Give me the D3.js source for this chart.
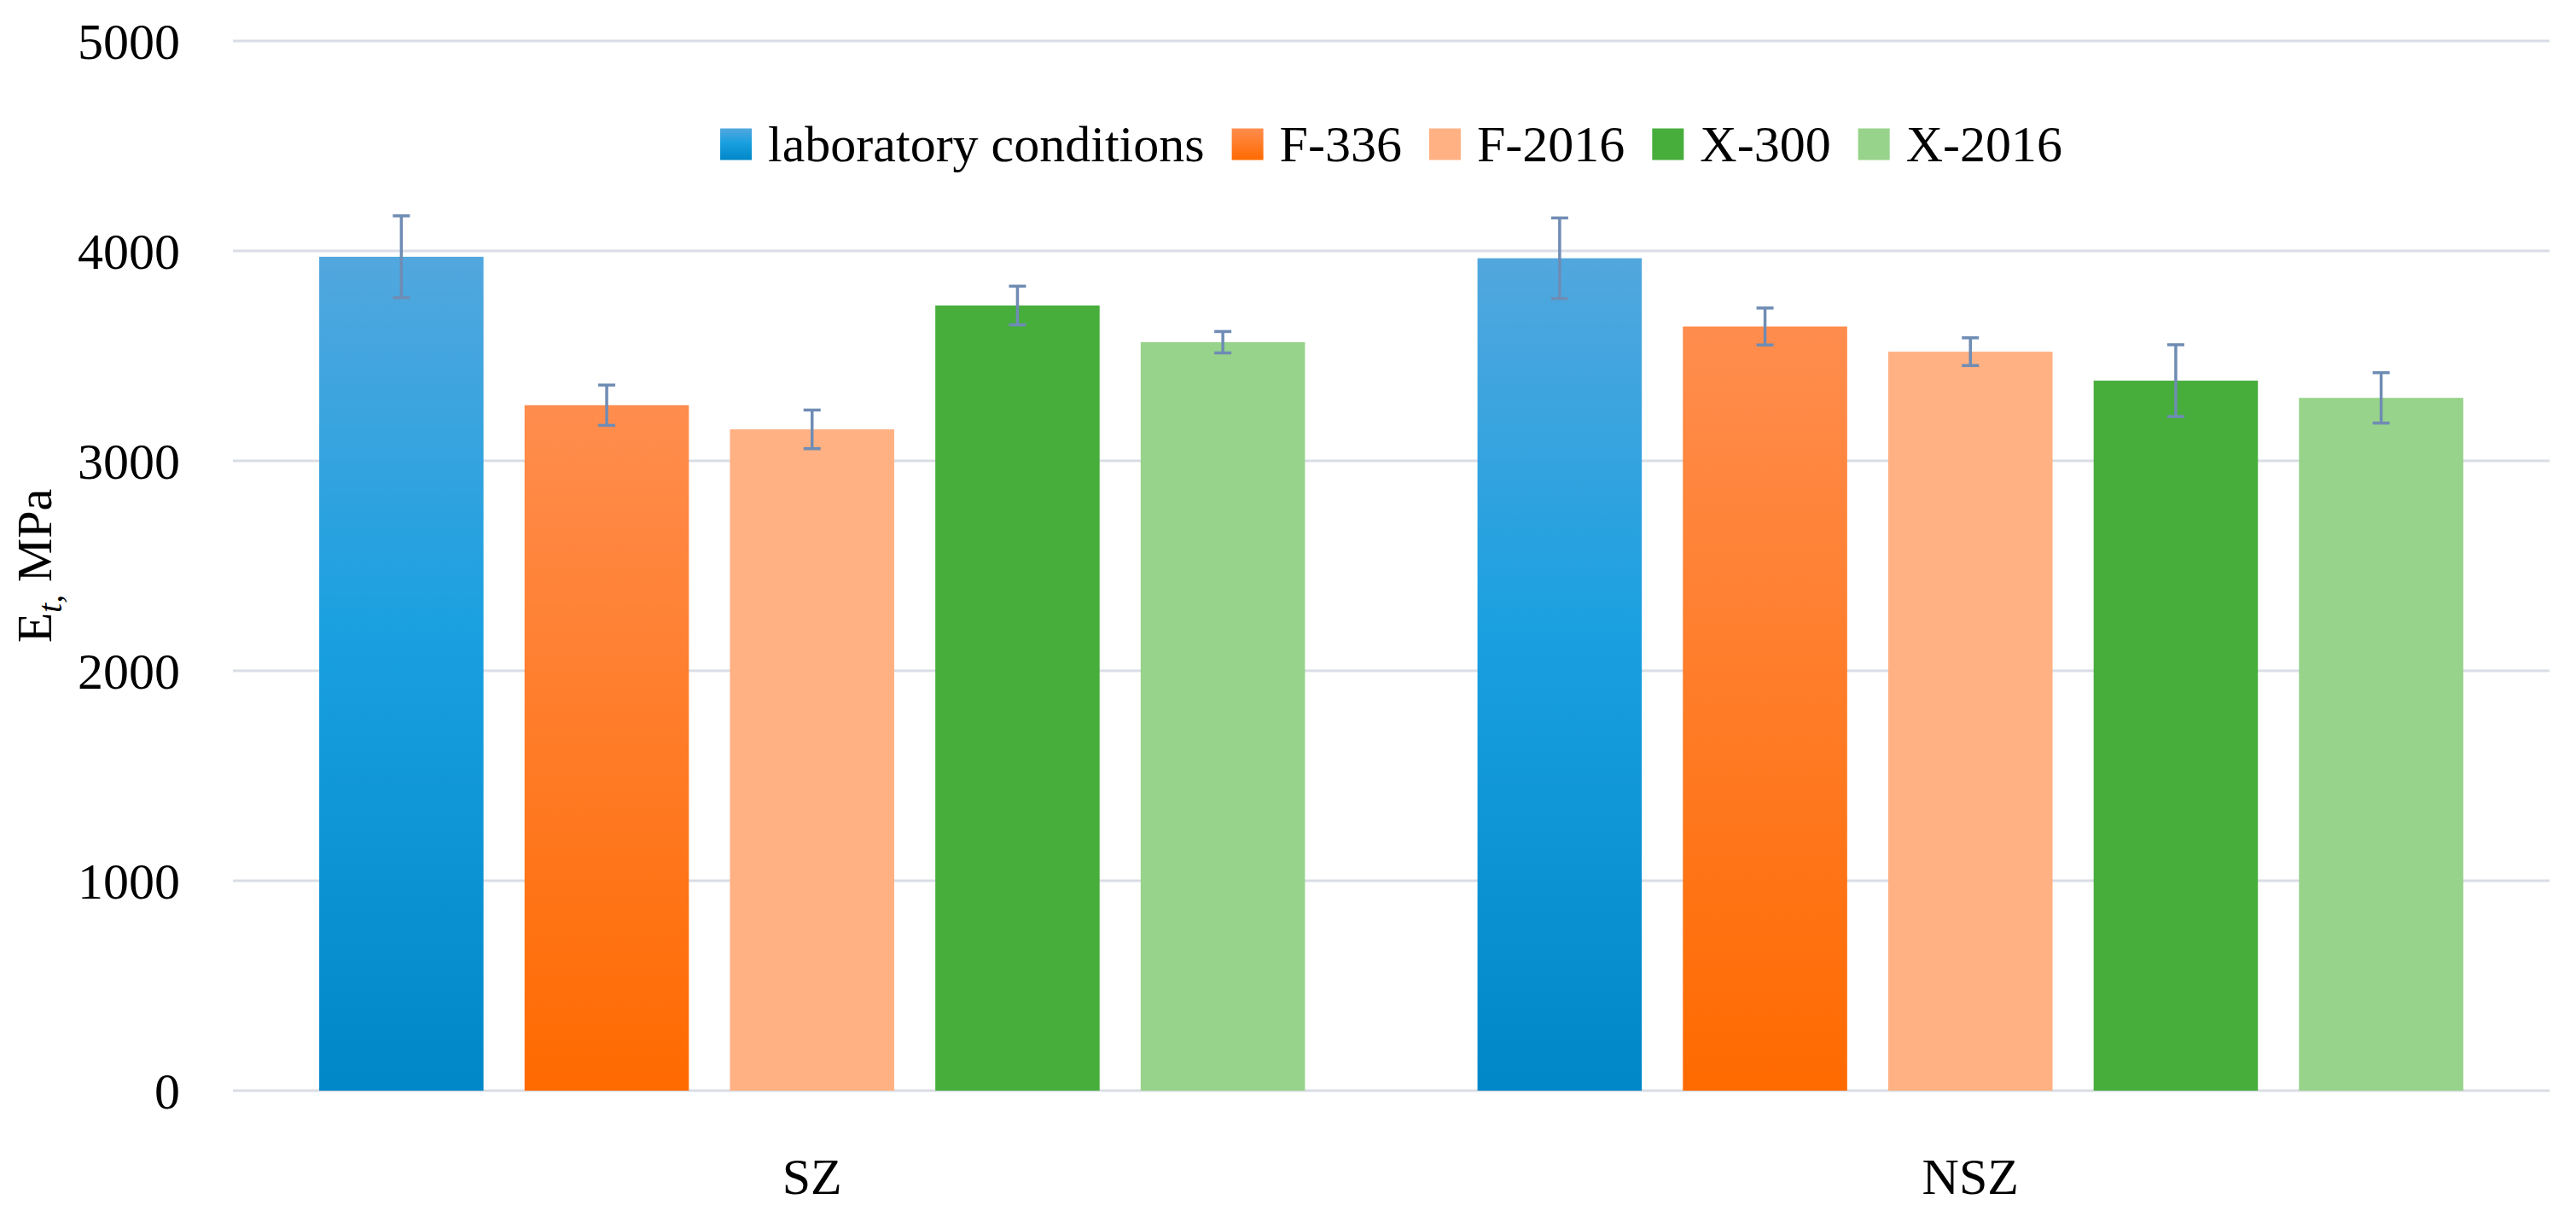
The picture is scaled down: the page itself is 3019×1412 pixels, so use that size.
<!DOCTYPE html>
<html>
<head>
<meta charset="utf-8">
<script src="https://cdn.jsdelivr.net/npm/d3@7"></script>
<style>
  html, body { margin: 0; padding: 0; background: #fff; }
  text { font-family: "Palatino Linotype", "Book Antiqua", Palatino, "Liberation Serif", serif; fill: #000; }
</style>
</head>
<body>
<svg id="chart" width="3019" height="1412"></svg>
<script>
// chart data
const groups = ["SZ", "NSZ"];
const series = ["laboratory conditions", "F-336", "F-2016", "X-300", "X-2016"];
const meanSZ = [3972, 3265, 3150, 3740, 3565];
const meanNSZ = [3965, 3640, 3520, 3382, 3300];
const errSZ = [195, 96, 92, 92, 51];
const errNSZ = [192, 88, 66, 171, 120];
const yTicks = [0, 1000, 2000, 3000, 4000, 5000];

const FILLS = ["url(#gradBlue)", "url(#gradOrange)", "#ffb183", "#47ae3c", "#97d38a"];

const width = 3019;
const height = 1412;
const margin = { top: 48, right: 31, bottom: 134, left: 273 };

const svg = d3.select("#chart");

// gradients for the first two series
const defs = svg.append("defs");
const gradients = [
  { id: "gradBlue", stops: [["0%", "#52a7de"], ["45%", "#1aa0e0"], ["100%", "#0087c8"]] },
  { id: "gradOrange", stops: [["0%", "#ff8d4e"], ["100%", "#ff6a00"]] },
];
gradients.forEach((g) => {
  const lg = defs.append("linearGradient")
    .attr("id", g.id)
    .attr("x1", 0).attr("y1", 0).attr("x2", 0).attr("y2", 1);
  g.stops.forEach(([o, c]) => lg.append("stop").attr("offset", o).attr("stop-color", c));
});

const x0 = d3.scaleBand()
  .domain(groups)
  .range([margin.left, width - margin.right]);

const x1 = d3.scaleBand()
  .domain(series)
  .range([0, x0.bandwidth()])
  .paddingInner(0.2)
  .paddingOuter(0.42);

const y = d3.scaleLinear()
  .domain([0, 5000])
  .range([height - margin.bottom, margin.top]);

// gridlines
svg.append("g")
  .selectAll("line")
  .data(yTicks)
  .join("line")
  .attr("x1", margin.left)
  .attr("x2", width - margin.right)
  .attr("y1", (d) => y(d))
  .attr("y2", (d) => y(d))
  .attr("stroke", "#d9dde5")
  .attr("stroke-width", 3);

// y axis labels
const yAxis = d3.axisLeft(y).tickValues(yTicks).tickSize(0).tickPadding(62).tickFormat(d3.format("d"));
svg.append("g")
  .attr("transform", `translate(${margin.left},0)`)
  .call(yAxis)
  .call((g) => g.select(".domain").remove())
  .selectAll("text")
  .attr("font-family", null)
  .attr("font-size", 60)
  .attr("dy", "0.34em");

// x axis labels
const xAxis = d3.axisBottom(x0).tickSize(0).tickPadding(78);
svg.append("g")
  .attr("transform", `translate(0,${height - margin.bottom})`)
  .call(xAxis)
  .call((g) => g.select(".domain").remove())
  .selectAll("text")
  .attr("font-family", null)
  .attr("font-size", 60);

// bars
const rows = groups.map((g, gi) => ({
  group: g,
  values: series.map((s, si) => ({
    series: s,
    idx: si,
    value: gi === 0 ? meanSZ[si] : meanNSZ[si],
    err: gi === 0 ? errSZ[si] : errNSZ[si],
  })),
}));

const groupG = svg.append("g")
  .selectAll("g")
  .data(rows)
  .join("g")
  .attr("transform", (d) => `translate(${x0(d.group)},0)`);

groupG.selectAll("rect")
  .data((d) => d.values)
  .join("rect")
  .attr("x", (d) => x1(d.series))
  .attr("y", (d) => y(d.value))
  .attr("width", x1.bandwidth())
  .attr("height", (d) => y(0) - y(d.value))
  .attr("fill", (d) => FILLS[d.idx]);

// error bars
const capHalf = 10;
const errG = groupG.selectAll("g.err")
  .data((d) => d.values)
  .join("g")
  .attr("class", "err")
  .attr("stroke", "#6f8cb4")
  .attr("stroke-width", 3.5);

errG.append("line")
  .attr("x1", (d) => x1(d.series) + x1.bandwidth() / 2)
  .attr("x2", (d) => x1(d.series) + x1.bandwidth() / 2)
  .attr("y1", (d) => y(d.value + d.err))
  .attr("y2", (d) => y(d.value - d.err));
errG.append("line")
  .attr("x1", (d) => x1(d.series) + x1.bandwidth() / 2 - capHalf)
  .attr("x2", (d) => x1(d.series) + x1.bandwidth() / 2 + capHalf)
  .attr("y1", (d) => y(d.value + d.err))
  .attr("y2", (d) => y(d.value + d.err));
errG.append("line")
  .attr("x1", (d) => x1(d.series) + x1.bandwidth() / 2 - capHalf)
  .attr("x2", (d) => x1(d.series) + x1.bandwidth() / 2 + capHalf)
  .attr("y1", (d) => y(d.value - d.err))
  .attr("y2", (d) => y(d.value - d.err));

// y axis title: E_t, MPa
const title = svg.append("text")
  .attr("transform", `translate(60,${(y(0) + y(5000)) / 2}) rotate(-90)`)
  .attr("text-anchor", "middle")
  .attr("font-size", 58);
title.append("tspan").text("E");
title.append("tspan")
  .attr("font-style", "italic")
  .attr("font-size", 40)
  .attr("dy", 12)
  .text("t,");
title.append("tspan").attr("dy", -12).text(" MPa");

// legend, centred over the plot
const legendY = 169;
const sq = 37;
const legend = svg.append("g");
const items = legend.selectAll("g")
  .data(series)
  .join("g");
items.append("rect")
  .attr("width", sq)
  .attr("height", sq)
  .attr("y", legendY - sq / 2)
  .attr("fill", (d, i) => FILLS[i]);
items.append("text")
  .attr("x", sq + 19)
  .attr("y", legendY)
  .attr("dy", "0.34em")
  .attr("font-size", 60)
  .text((d) => d);

let cursor = 0;
items.each(function () {
  const w = d3.select(this).select("text").node().getComputedTextLength();
  d3.select(this).attr("transform", `translate(${cursor},0)`);
  cursor += sq + 19 + w + 32;
});
const total = cursor - 32;
const cx = (margin.left + width - margin.right) / 2;
legend.attr("transform", `translate(${cx - total / 2},0)`);
</script>
</body>
</html>
